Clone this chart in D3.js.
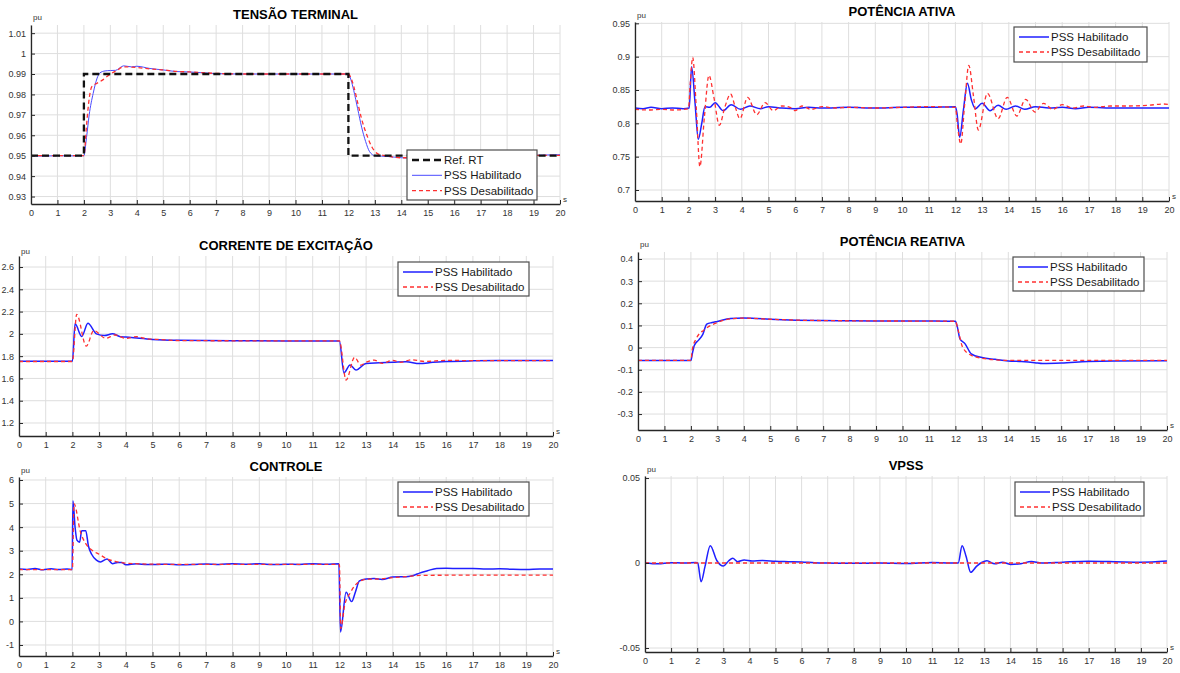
<!DOCTYPE html>
<html lang="pt">
<head>
<meta charset="UTF-8" />
<title>Ensaio PSS</title>
<script src="https://d3js.org/d3.v7.min.js"></script>
<style>
  body { margin: 0; background: #fff; }
  svg { font-family: "Liberation Sans", Arial, sans-serif; }
</style>
</head>
<body>
<svg width="1180" height="673"></svg>
<script>
  // ---- data (time in s, values in pu) ----
  var xTicks = [0,1,2,3,4,5,6,7,8,9,10,11,12,13,14,15,16,17,18,19,20];

  // Tensão terminal
  var vtTicks = [0.93,0.94,0.95,0.96,0.97,0.98,0.99,1,1.01];
  var vtRef = [[0,0.95],[2,0.95],[2,0.99],[12,0.99],[12,0.95],[20,0.95]];
  var vtOn = [[0,0.95],[0.5,0.9498],[1,0.95],[1.5,0.9499],[2,0.95],[2.1,0.959],[2.2,0.97],[2.35,0.9805],[2.5,0.988],[2.6,0.9905],
    [2.8,0.9915],[3,0.9917],[3.2,0.9918],[3.5,0.994],[3.8,0.9935],[4,0.9938],[4.5,0.9927],[5,0.992],[5.5,0.9912],[6,0.991],
    [6.5,0.9906],[7,0.9902],[8,0.99],[10,0.99],[12,0.99],[12.1,0.987],[12.2,0.982],[12.35,0.973],[12.5,0.964],[12.65,0.957],
    [12.8,0.952],[13,0.95],[13.5,0.9496],[14,0.949],[14.5,0.9488],[15,0.949],[16,0.9494],[17,0.9498],[18,0.95],[19,0.9502],[20,0.9505]];
  var vtOff = [[0,0.95],[2,0.95],[2.1,0.965],[2.2,0.978],[2.3,0.9838],[2.5,0.9855],[2.7,0.987],[2.85,0.9885],[3,0.99],[3.25,0.9918],
    [3.5,0.9935],[4,0.9932],[4.5,0.9925],[5,0.992],[5.5,0.9913],[6,0.991],[7,0.9903],[8,0.99],[12,0.99],[12.1,0.988],[12.2,0.984],
    [12.35,0.976],[12.5,0.968],[12.7,0.96],[12.9,0.954],[13.1,0.951],[13.4,0.95],[14,0.949],[15,0.949],[16,0.9495],[18,0.95],[20,0.9502]];

  // Potência ativa
  var paTicks = [0.7,0.75,0.8,0.85,0.9,0.95];
  var paOn = [[0,0.823],[0.3,0.822],[0.6,0.824],[1,0.822],[1.4,0.823],[1.8,0.822],[2.03,0.823],[2.12,0.885],[2.25,0.83],[2.37,0.776],
    [2.5,0.8],[2.62,0.825],[2.8,0.824],[3,0.831],[3.3,0.819],[3.6,0.828],[3.95,0.821],[4.3,0.826],[4.7,0.822],[5,0.825],[5.5,0.823],
    [6,0.822],[6.5,0.824],[7,0.823],[8,0.824],[9,0.823],[10,0.824],[11,0.824],[12,0.825],[12.06,0.815],[12.16,0.779],[12.3,0.82],
    [12.45,0.86],[12.6,0.835],[12.75,0.822],[13,0.83],[13.3,0.819],[13.6,0.827],[13.9,0.821],[14.25,0.826],[14.6,0.821],[15,0.825],
    [15.5,0.823],[16,0.824],[16.5,0.822],[17,0.824],[18,0.823],[19,0.823],[20,0.823]];
  var paOff = [[0,0.821],[0.5,0.82],[1,0.821],[1.5,0.82],[2,0.822],[2.07,0.86],[2.16,0.899],[2.3,0.82],[2.43,0.735],[2.6,0.81],
    [2.77,0.872],[2.95,0.84],[3.16,0.797],[3.37,0.825],[3.58,0.844],[3.75,0.825],[3.93,0.807],[4.22,0.839],[4.56,0.813],[4.87,0.831],
    [5.18,0.819],[5.5,0.826],[5.8,0.824],[6,0.819],[6.25,0.826],[6.6,0.821],[7,0.825],[7.5,0.823],[8,0.824],[9,0.823],[10,0.824],
    [11,0.825],[12,0.824],[12.07,0.8],[12.2,0.769],[12.35,0.83],[12.5,0.887],[12.68,0.84],[12.86,0.79],[13.2,0.845],[13.6,0.807],
    [13.94,0.839],[14.3,0.811],[14.63,0.836],[14.98,0.817],[15.3,0.83],[15.65,0.821],[16,0.828],[16.4,0.823],[16.8,0.826],
    [17.2,0.824],[17.8,0.826],[18.5,0.826],[19.2,0.827],[19.8,0.829],[20,0.828]];

  // Corrente de excitação
  var ifdTicks = [1.2,1.4,1.6,1.8,2,2.2,2.4,2.6];
  var ifdOn = [[0,1.755],[2,1.755],[2.1,2.09],[2.35,1.977],[2.58,2.095],[2.9,2],[3.2,1.985],[3.5,2],[3.8,1.975],[4,1.972],[4.5,1.96],
    [5,1.95],[6,1.942],[8,1.938],[10,1.937],[12,1.937],[12.17,1.65],[12.4,1.72],[12.62,1.675],[13,1.735],[13.5,1.74],[14,1.745],
    [14.5,1.75],[15,1.733],[15.5,1.745],[16,1.752],[17,1.758],[18,1.76],[20,1.76]];
  var ifdOff = [[0,1.752],[2,1.752],[2.16,2.175],[2.52,1.89],[2.8,2.03],[3.25,1.96],[3.6,1.99],[4,1.96],[4.4,1.975],[4.8,1.955],
    [5.2,1.95],[6,1.94],[8,1.938],[12,1.937],[12.25,1.585],[12.57,1.79],[12.8,1.72],[13,1.745],[13.3,1.765],[13.6,1.735],[14,1.762],
    [14.3,1.745],[14.7,1.768],[15.2,1.752],[16,1.762],[17,1.76],[20,1.76]];

  // Potência reativa
  var qTicks = [-0.3,-0.2,-0.1,0,0.1,0.2,0.3,0.4];
  var qOn = [[0,-0.058],[2,-0.058],[2.05,-0.03],[2.13,0.01],[2.3,0.035],[2.45,0.06],[2.6,0.106],[2.8,0.113],[3,0.118],[3.5,0.131],
    [4,0.134],[4.5,0.131],[5,0.128],[6,0.124],[7,0.122],[8,0.121],[10,0.12],[12,0.119],[12.08,0.09],[12.17,0.04],[12.36,0.018],
    [12.6,-0.028],[13,-0.045],[13.5,-0.053],[14,-0.06],[14.5,-0.063],[15,-0.068],[15.3,-0.072],[16,-0.07],[17,-0.063],[18,-0.06],[20,-0.059]];
  var qOff = [[0,-0.058],[2,-0.058],[2.05,-0.01],[2.2,0.04],[2.5,0.08],[2.8,0.103],[3,0.113],[3.5,0.13],[4,0.133],[5,0.128],[6,0.124],
    [8,0.121],[12,0.119],[12.1,0.08],[12.27,0.003],[12.6,-0.035],[13,-0.048],[13.5,-0.055],[14,-0.058],[15,-0.058],[20,-0.058]];

  // Controle
  var ctlTicks = [-1,0,1,2,3,4,5,6];
  var ctlOn = [[0,2.22],[0.3,2.2],[0.6,2.24],[0.9,2.19],[1.2,2.23],[1.5,2.2],[1.8,2.22],[1.99,2.2],[2.02,5.12],[2.1,4],[2.17,3.45],
    [2.27,3.36],[2.35,3.85],[2.5,3.85],[2.6,3.2],[2.72,2.85],[2.9,2.6],[3.05,2.52],[3.3,2.65],[3.5,2.45],[3.7,2.5],[3.85,2.5],[4,2.4],
    [4.4,2.45],[4.8,2.41],[5.2,2.42],[5.6,2.43],[6,2.4],[6.5,2.41],[7,2.44],[7.5,2.42],[8,2.45],[8.5,2.43],[9,2.45],[9.5,2.41],[10,2.43],
    [10.5,2.42],[11,2.45],[11.5,2.43],[11.98,2.45],[12.04,-0.45],[12.25,1.24],[12.46,0.84],[12.6,1.25],[12.75,1.72],[13,1.8],[13.3,1.82],
    [13.6,1.78],[14,1.88],[14.5,1.9],[14.8,1.96],[15,2.05],[15.3,2.15],[15.64,2.25],[16,2.26],[16.5,2.24],[17,2.25],[17.5,2.22],
    [18,2.23],[18.5,2.21],[19,2.2],[19.5,2.22],[20,2.22]];
  var ctlOff = [[0,2.2],[2,2.2],[2.06,5],[2.3,3.8],[2.5,3.3],[2.7,3.05],[3,2.85],[3.3,2.65],[3.6,2.55],[4,2.47],[5,2.43],[6,2.42],
    [8,2.42],[12,2.42],[12.05,-0.3],[12.2,0.7],[12.4,1.2],[12.6,1.55],[12.8,1.72],[13,1.79],[13.5,1.8],[14,1.86],[14.5,1.9],[15,1.95],
    [16,1.96],[20,1.96]];

  // VPSS
  var vpssTicks = [-0.05,0,0.05];
  var vpssOn = [[0,0],[0.5,-0.0005],[1,0.0002],[1.5,0],[1.95,0.0003],[2.02,0],[2.15,-0.011],[2.3,-0.002],[2.5,0.0102],[2.75,0.0015],
    [3,-0.0018],[3.2,0.0012],[3.36,0.0028],[3.55,0.0008],[3.8,0.0018],[4.1,0.0012],[4.5,0.0015],[5,0.001],[5.5,0.0008],[6,0.0006],
    [6.5,0.0002],[7,0],[8,-0.0002],[9,0],[10,-0.0003],[11,0.0003],[11.7,0],[12,0],[12.15,0.0102],[12.3,0.004],[12.48,-0.0055],
    [12.7,-0.002],[12.9,0.0003],[13.1,0.0013],[13.4,-0.0005],[13.7,0.0005],[14,-0.0008],[14.4,-0.0004],[14.8,0.0009],[15.2,0],
    [16,0.0005],[17,0.001],[18,0.0008],[19,0.0005],[20,0.0012]];
  var vpssOff = [[0,0],[20,0]];

  // ---- styles ----
  var sOn = { name: "PSS Habilitado", color: "#1f1fff", width: 1.5, dash: null };
  var sOnThin = { name: "PSS Habilitado", color: "#4a4aff", width: 1, dash: null };
  var sOff = { name: "PSS Desabilitado", color: "#ff3030", width: 1.3, dash: "4,3" };
  var sRef = { name: "Ref. RT", color: "#111", width: 2.3, dash: "7,4" };

  var panels = [
    { title: "TENSÃO TERMINAL", left: 31, right: 560, top: 25, bottom: 204, yDomain: [0.92635, 1.014], yTicks: vtTicks, puY: 20,
      series: [[vtOn, sOnThin], [vtOff, sOff], [vtRef, sRef]], legendOrder: [sRef, sOnThin, sOff],
      legend: { x: 407, y: 150, w: 130, h: 50 } },
    { title: "POTÊNCIA ATIVA", left: 635, right: 1169, top: 22, bottom: 201, yDomain: [0.6835, 0.952], yTicks: paTicks, puY: 18,
      series: [[paOn, sOn], [paOff, sOff]], legendOrder: [sOn, sOff],
      legend: { x: 1014, y: 27, w: 133, h: 35 } },
    { title: "CORRENTE DE EXCITAÇÃO", left: 19, right: 553, top: 256, bottom: 436, yDomain: [1.0833, 2.699], yTicks: ifdTicks, puY: 254,
      series: [[ifdOn, sOn], [ifdOff, sOff]], legendOrder: [sOn, sOff],
      legend: { x: 398, y: 262, w: 131, h: 34 } },
    { title: "POTÊNCIA REATIVA", left: 638, right: 1167, top: 252, bottom: 430, yDomain: [-0.372, 0.4316], yTicks: qTicks, puY: 247,
      series: [[qOn, sOn], [qOff, sOff]], legendOrder: [sOn, sOff],
      legend: { x: 1013, y: 257, w: 131, h: 34 } },
    { title: "CONTROLE", left: 19, right: 553, top: 477, bottom: 656, yDomain: [-1.467, 6.127], yTicks: ctlTicks, puY: 473,
      series: [[ctlOn, sOn], [ctlOff, sOff]], legendOrder: [sOn, sOff],
      legend: { x: 398, y: 482, w: 131, h: 34 } },
    { title: "VPSS", left: 645, right: 1167, top: 476, bottom: 652, yDomain: [-0.05235, 0.0512], yTicks: vpssTicks, puY: 472,
      series: [[vpssOn, sOn], [vpssOff, sOff]], legendOrder: [sOn, sOff],
      legend: { x: 1015, y: 482, w: 129, h: 34 } }
  ];

  var svg = d3.select("svg");
  svg.append("rect").attr("width", 1180).attr("height", 673).attr("fill", "#fff");

  panels.forEach(function (p, i) {
    var x = d3.scaleLinear().domain([0, 20]).range([p.left, p.right]);
    var y = d3.scaleLinear().domain(p.yDomain).range([p.bottom, p.top]);
    var g = svg.append("g");

    // grid
    g.selectAll(".vg").data(xTicks).enter().append("line")
      .attr("x1", function (d) { return x(d); }).attr("x2", function (d) { return x(d); })
      .attr("y1", p.top).attr("y2", p.bottom)
      .attr("stroke", "#dedede").attr("stroke-width", 1);
    g.selectAll(".hg").data(p.yTicks).enter().append("line")
      .attr("x1", p.left).attr("x2", p.right)
      .attr("y1", function (d) { return y(d); }).attr("y2", function (d) { return y(d); })
      .attr("stroke", "#dedede").attr("stroke-width", 1);

    // lines
    g.append("clipPath").attr("id", "clip" + i).append("rect")
      .attr("x", p.left).attr("y", p.top).attr("width", p.right - p.left).attr("height", p.bottom - p.top);
    p.series.forEach(function (s) {
      var st = s[1];
      var line = d3.line()
        .x(function (d) { return x(d[0]); })
        .y(function (d) { return y(d[1]); })
        .curve(st === sRef ? d3.curveLinear : d3.curveMonotoneX);
      g.append("path").datum(s[0])
        .attr("clip-path", "url(#clip" + i + ")")
        .attr("d", line).attr("fill", "none")
        .attr("stroke", st.color).attr("stroke-width", st.width)
        .attr("stroke-dasharray", st.dash);
    });

    // axes
    var xAxis = d3.axisBottom(x).tickValues(xTicks).tickSizeInner(-4).tickSizeOuter(0).tickPadding(6)
      .tickFormat(function (d) { return String(d); });
    var yAxis = d3.axisLeft(y).tickValues(p.yTicks).tickSizeInner(-4).tickSizeOuter(0).tickPadding(5)
      .tickFormat(function (d) { return String(d); });
    var ax = g.append("g").attr("transform", "translate(0," + p.bottom + ")").call(xAxis);
    var ay = g.append("g").attr("transform", "translate(" + p.left + ",0)").call(yAxis);
    [ax, ay].forEach(function (a) {
      a.select(".domain").attr("stroke", "#262626").attr("stroke-width", 1.3);
      a.selectAll(".tick line").attr("stroke", "#262626");
      a.selectAll(".tick text").attr("fill", "#333").style("font-size", "9px")
        .style("font-family", "'Liberation Sans', Arial, sans-serif");
    });

    // title and units
    g.append("text").attr("x", (p.left + p.right) / 2).attr("y", p.top - 6.5)
      .attr("text-anchor", "middle").style("font-size", "13px").style("font-weight", "bold").attr("fill", "#000")
      .text(p.title);
    g.append("text").attr("x", p.left + 2).attr("y", p.puY)
      .style("font-size", "8px").attr("fill", "#333").text("pu");
    g.append("text").attr("x", p.right + 3).attr("y", p.bottom - 2)
      .style("font-size", "8px").attr("fill", "#333").text("s");

    // legend
    var L = p.legend;
    var lg = g.append("g");
    lg.append("rect").attr("x", L.x).attr("y", L.y).attr("width", L.w).attr("height", L.h)
      .attr("fill", "#fff").attr("stroke", "#4d4d4d").attr("stroke-width", 1.2);
    var rowGap = p.legendOrder.length === 3 ? 15.3 : 15;
    p.legendOrder.forEach(function (st, k) {
      var ry = L.y + 10 + k * rowGap;
      lg.append("line").attr("x1", L.x + 5).attr("x2", L.x + 35).attr("y1", ry).attr("y2", ry)
        .attr("stroke", st.color).attr("stroke-width", st.width).attr("stroke-dasharray", st.dash);
      lg.append("text").attr("x", L.x + 37).attr("y", ry).attr("dy", "0.36em")
        .style("font-size", "11.5px").attr("fill", "#1a1a1a").text(st.name);
    });
  });
</script>
</body>
</html>
